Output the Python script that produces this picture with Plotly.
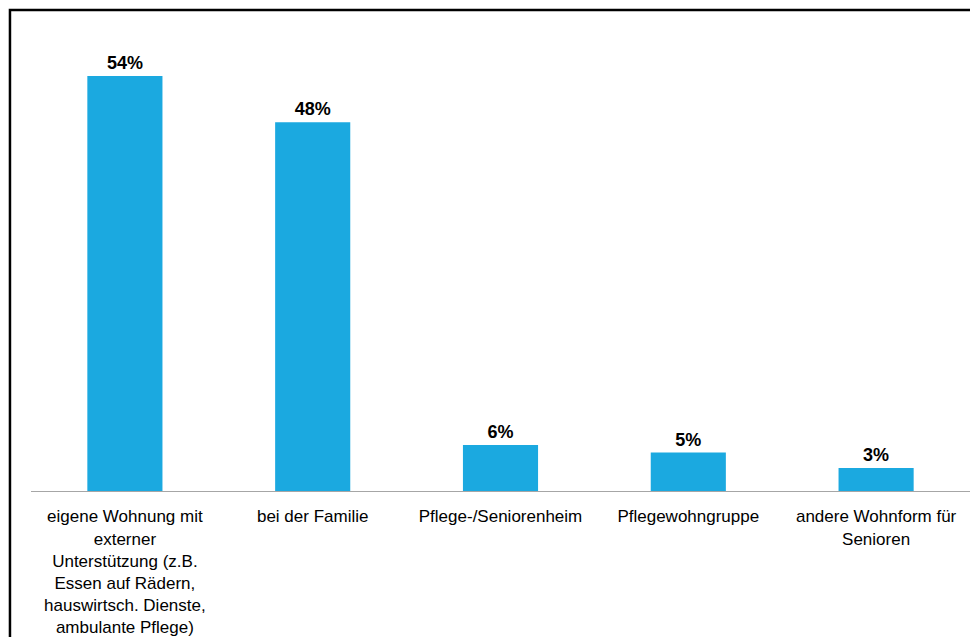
import plotly.graph_objects as go

categories = [
    "eigene Wohnung mit<br>externer<br>Unterstützung (z.B.<br>Essen auf Rädern,<br>hauswirtsch. Dienste,<br>ambulante Pflege)",
    "bei der Familie",
    "Pflege-/Seniorenheim",
    "Pflegewohngruppe",
    "andere Wohnform für<br>Senioren",
]
values = [54, 48, 6, 5, 3]

fig = go.Figure(
    go.Bar(
        x=categories,
        y=values,
        marker=dict(color="#1BA9E0", line=dict(width=0)),
        texttemplate="<b>%{y}%</b>",
        textposition="outside",
        textfont=dict(family="Liberation Sans, Arial", size=18, color="black"),
        cliponaxis=False,
    )
)

fig.update_layout(
    width=978,
    height=637,
    margin=dict(l=23, r=16, t=22, b=154, autoexpand=False),
    paper_bgcolor="white",
    plot_bgcolor="white",
    bargap=0.6,
    showlegend=False,
    font=dict(family="Liberation Sans, Arial", size=17, color="black"),
    xaxis=dict(
        showline=True,
        linecolor="#A6A6A6",
        linewidth=1,
        ticks="",
        ticklabelstandoff=10,
        tickfont=dict(family="Liberation Sans, Arial", size=17, color="black"),
        tickangle=0,
        showgrid=False,
        automargin=False,
    ),
    yaxis=dict(
        range=[0, 60],
        visible=False,
        showgrid=False,
        zeroline=False,
        automargin=False,
    ),
    shapes=[
        dict(
            type="rect",
            xref="paper",
            yref="paper",
            x0=-0.0224,
            x1=1.2,
            y0=-0.6,
            y1=1.0434,
            line=dict(color="black", width=2.5),
            fillcolor="rgba(0,0,0,0)",
            layer="above",
        )
    ],
)

fig.write_html("out.html")
